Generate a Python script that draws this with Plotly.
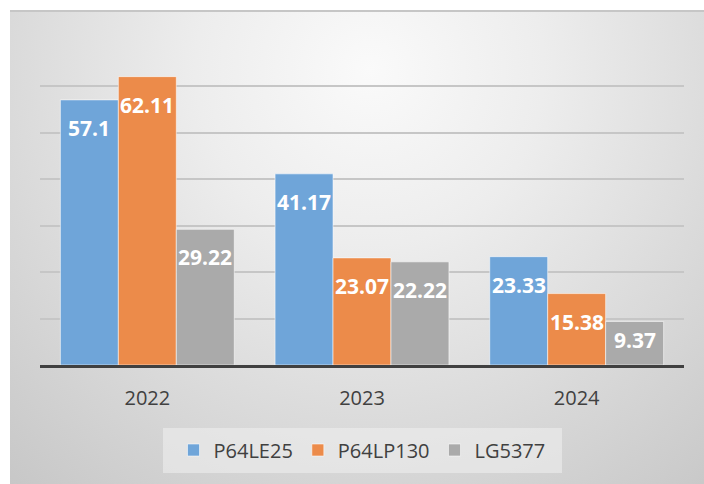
import base64
import plotly.graph_objects as go

categories = ["2022", "2023", "2024"]
series_names = ["P64LE25", "P64LP130", "LG5377"]
p64le25 = [57.1, 41.17, 23.33]
p64lp130 = [62.11, 23.07, 15.38]
lg5377 = [29.22, 22.22, 9.37]
colors = ["#6fa5d9", "#ec8b4a", "#aaaaaa"]

W, H = 704, 484
ML, MR, MT, MB = 40, 20, 40, 119
PW, PH = W - ML - MR, H - MT - MB
BARGAP = 0.19

svg = (
    '<svg xmlns="http://www.w3.org/2000/svg" width="694" height="474" viewBox="0 0 694 474">'
    '<defs><radialGradient id="g" gradientUnits="userSpaceOnUse" cx="360" cy="60" r="580">'
    '<stop offset="0" stop-color="#fafafa"/><stop offset="0.3" stop-color="#ededed"/>'
    '<stop offset="1" stop-color="#c4c4c4"/></radialGradient></defs>'
    '<rect width="694" height="474" fill="url(#g)"/>'
    '<rect width="694" height="2" fill="#c6c6c6"/></svg>'
)
src = "data:image/svg+xml;base64," + base64.b64encode(svg.encode()).decode()

fig = go.Figure()
all_vals = [p64le25, p64lp130, lg5377]
for name, vals, col in zip(series_names, all_vals, colors):
    fig.add_trace(go.Bar(
        x=categories, y=vals, name=name,
        marker=dict(color=col, line=dict(color="rgba(255,255,255,0.55)", width=1)),
        textposition="none", hoverinfo="x+y+name",
    ))

px_per_unit = PH / 70.0
bar_w = (1 - BARGAP) / 3
annotations = []
for j, vals in enumerate(all_vals):
    for i, v in enumerate(vals):
        hpx = v * px_per_unit
        shift = -28 if hpx > 60 else -hpx / 2 + 3
        annotations.append(dict(
            x=i + (j - 1) * bar_w, y=v, xref="x", yref="y", text=f"{v:g}", showarrow=False,
            yshift=shift, yanchor="middle",
            font=dict(family="Open Sans", size=21, color="white", weight="bold"),
        ))

fig.update_layout(
    width=W, height=H,
    margin=dict(l=ML, r=MR, t=MT, b=MB),
    paper_bgcolor="white", plot_bgcolor="rgba(0,0,0,0)",
    barmode="group", bargap=BARGAP, bargroupgap=0,
    font=dict(family="Open Sans", color="#404040"),
    showlegend=True,
    legend=dict(orientation="h", x=0.5, xanchor="center", y=(MT + PH - 450) / PH,
                yanchor="middle", bgcolor="rgba(0,0,0,0)",
                font=dict(size=20, color="#404040"), itemwidth=30),
    annotations=annotations,
    images=[dict(source=src, xref="paper", yref="paper",
                 x=(10 - ML) / PW, y=(MT + PH - 10) / PH,
                 sizex=694 / PW, sizey=474 / PH, xanchor="left", yanchor="top",
                 sizing="stretch", layer="below")],
    shapes=[dict(type="rect", xref="paper", yref="paper",
                 x0=(163 - ML) / PW, x1=(562 - ML) / PW,
                 y0=(MT + PH - 473) / PH, y1=(MT + PH - 428) / PH,
                 fillcolor="rgba(240,240,240,0.55)", line=dict(width=0), layer="below")],
)
fig.update_xaxes(type="category", categoryarray=categories, range=[-0.5, 2.5],
                 showline=True, linecolor="#404040", linewidth=3, ticks="outside",
                 ticklen=13, tickcolor="rgba(0,0,0,0)", tickfont=dict(size=20, color="#404040"),
                 showgrid=False)
fig.update_yaxes(range=[0, 70], dtick=10, showticklabels=False, showgrid=True,
                 gridcolor="#c6c6c6", gridwidth=1.5, zeroline=False)

fig.write_html("out.html", config={"displayModeBar": False},
               post_script="document.body.style.margin='0';")
